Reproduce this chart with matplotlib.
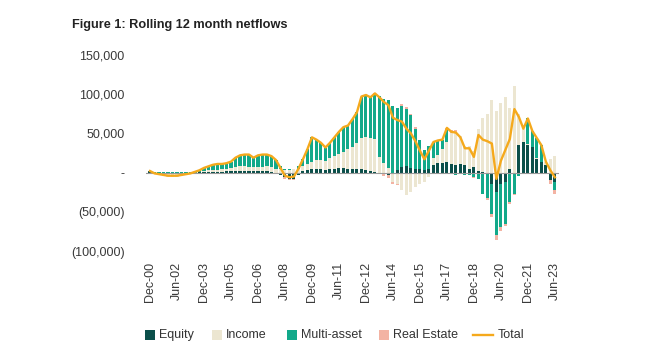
import matplotlib.pyplot as plt
import numpy as np
import pandas as pd
from matplotlib.patches import Rectangle
from matplotlib.lines import Line2D
from matplotlib.ticker import FuncFormatter

plt.rcParams['font.family'] = ['Liberation Sans', 'DejaVu Sans']

# quarterly, Dec-00 .. Jun-23 (values in thousands)
quarters = pd.date_range("2000-12-31", periods=91, freq="QE")

equity = [2, -1, -1, -2, -2, -2, -2, -2, -1, -1,
          0, 1, 1, 1, 1, 1, 1, 2, 2, 2,
          2, 2, 2, 2, 2, 2, 2, 1, 0, -3,
          -6, -8, -8, -3, 2, 3, 4, 5, 4, 3,
          4, 5, 6, 6, 5, 5, 5, 4, 3, 2,
          1, -2, -2, -3, -2, 3, 7, 8, 6, 5,
          4, 3, 4, 10, 12, 12, 14, 11, 10, 11,
          10, 4, 7, 2, 1, 0, -14, -25, -14, -12,
          5, 0, 35, 39, 35, 33, 17, 14, 10, -9,
          -12]
income = [0, -1, -2, -2, -3, -3, -3, -2, -2, -1,
          0, 0, 1, 2, 2, 2, 3, 3, 4, 5,
          6, 6, 5, 5, 5, 5, 6, 6, 5, 4,
          3, 3, 4, 5, 6, 8, 10, 11, 12, 12,
          14, 16, 18, 20, 25, 28, 33, 40, 42, 42,
          42, 20, 12, 6, -10, -15, -22, -28, -25, -18,
          -14, -12, -6, 8, 10, 18, 25, 40, 42, 36,
          24, 30, 20, 54, 68, 75, 93, 78, 89, 97,
          78, 110, 40, 17, 2, 0, 2, 0, 4, 17,
          21]
multi_asset = [0, 1, 1, 1, 1, 1, 1, 1, 1, 1,
               1, 2, 4, 5, 7, 8, 7, 7, 8, 12,
               14, 15, 16, 12, 15, 16, 15, 14, 11, 5,
               1, 1, 1, 3, 9, 19, 31, 26, 22, 17,
               20, 24, 28, 32, 30, 35, 39, 53, 54, 52,
               56, 78, 82, 87, 85, 80, 78, 73, 67, 51,
               38, 26, 30, 21, 19, 12, 15, -2, -3, -2,
               -3, -3, -5, -8, -27, -33, -39, -55, -56, -53,
               -38, -27, -4, 0, 32, 20, 25, 21, 0, -1,
               -10]
real_estate = [0, 0, 0, 0, 0, 0, 0, 0, 0, 0,
               0, 0, 0, 0, 0, 0, 0, 0, 0, 0,
               0, 0, 0, 0, 0, 0, 0, 0, 0, 0,
               -2, -2, -2, 0, 0, 0, 0, 0, 0, 0,
               0, 0, 0, 0, 0, 0, 0, 0, 0, 0,
               2, 0, -2, -4, -3, -1, 2, 3, 2, 2,
               0, 0, 0, 0, 0, 0, 3, 3, 2, 0,
               0, 0, -2, 0, 0, -2, -3, -6, -4, -3,
               -2, -2, 0, 0, 0, 0, 0, 0, 0, -4,
               -5]
total = [2, -1, -2, -3, -4, -4, -4, -3, -2, -1,
         1, 3, 6, 8, 10, 11, 11, 12, 14, 19,
         22, 23, 23, 19, 22, 23, 23, 21, 16, 6,
         -4, -6, -5, 5, 17, 30, 45, 42, 38, 32,
         38, 45, 52, 58, 60, 68, 77, 97, 99, 96,
         101, 96, 90, 86, 70, 67, 65, 56, 50, 40,
         28, 17, 28, 39, 41, 42, 57, 52, 51, 45,
         31, 31, 20, 48, 42, 40, 37, -8, 15, 29,
         43, 81, 71, 56, 69, 53, 44, 35, 14, 3,
         -6]

series = [("Equity", equity, "#0b4f4a"),
          ("Income", income, "#ece6d1"),
          ("Multi-asset", multi_asset, "#12a98a"),
          ("Real Estate", real_estate, "#f3b3a3")]
total_color = "#f5a91c"

fig = plt.figure(figsize=(6.6, 3.61), dpi=100)
ax = fig.add_axes([0.2205, 0.3047, 0.627, 0.543])

x = np.arange(len(quarters))
pos_base = np.zeros(len(x))
neg_base = np.zeros(len(x))
for name, vals, color in series:
    v = np.array(vals, dtype=float)
    p = np.where(v > 0, v, 0)
    n = np.where(v < 0, v, 0)
    ax.bar(x, p, bottom=pos_base, width=0.68, color=color, linewidth=0, zorder=2)
    ax.bar(x, n, bottom=neg_base, width=0.68, color=color, linewidth=0, zorder=2)
    pos_base += p
    neg_base += n

ax.axhline(0, color="#9a9a9a", lw=0.8, zorder=3)
ax.plot(x, total, color=total_color, lw=1.7, zorder=4)

ax.set_xlim(-1, len(x))
ax.set_ylim(-100, 150)
ax.set_yticks([-100, -50, 0, 50, 100, 150])


def fmt(v, pos):
    if v == 0:
        return "-"
    if v < 0:
        return f"({abs(v) * 1000:,.0f})"
    return f"{v * 1000:,.0f}"


ax.yaxis.set_major_formatter(FuncFormatter(fmt))
ticks = x[::6]
ax.set_xticks(ticks)
ax.set_xticklabels([quarters[i].strftime("%b-%y") for i in ticks], rotation=90)
ax.tick_params(axis="both", length=0, labelsize=9, colors="#3a3a3a")
ax.tick_params(axis="y", pad=15)
ax.tick_params(axis="x", pad=8)
for s in ax.spines.values():
    s.set_visible(False)

fig.text(0.109, 0.93, "Figure 1: Rolling 12 month netflows", fontsize=9.2,
         fontweight="bold", color="#222222", va="center")

# legend row
ly = 1 - 335 / 361
sq_w, sq_h = 10 / 660, 10 / 361
for (name, vals, color), px in zip(series, [145, 212, 287, 379]):
    fig.add_artist(Rectangle((px / 660, ly - sq_h / 2), sq_w, sq_h,
                             transform=fig.transFigure, color=color, lw=0))
    fig.text((px + 14) / 660, ly, name, fontsize=9, color="#333333", va="center")
fig.add_artist(Line2D([473 / 660, 493 / 660], [ly, ly], transform=fig.transFigure,
                      color=total_color, lw=1.7))
fig.text(498 / 660, ly, "Total", fontsize=9, color="#333333", va="center")

fig.savefig("out.png", dpi=100)
